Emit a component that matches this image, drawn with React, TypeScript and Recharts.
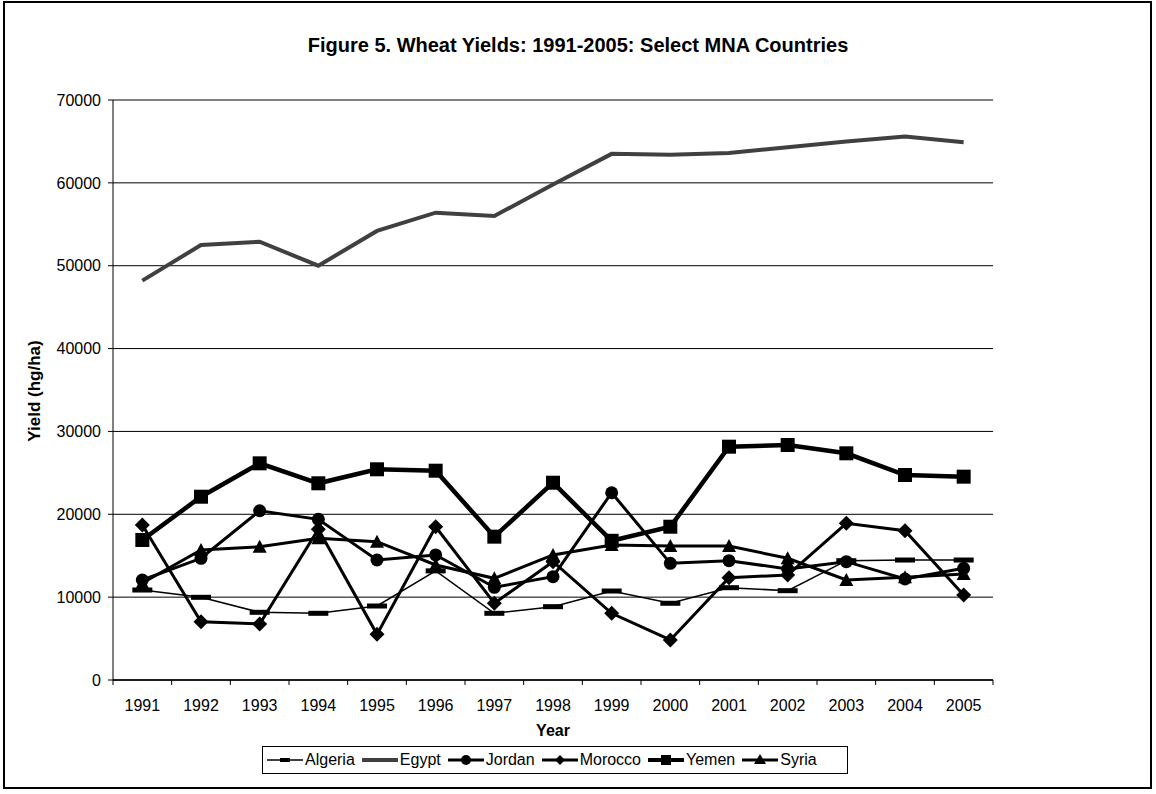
import { LineChart, Line, XAxis, YAxis, CartesianGrid, ReferenceLine } from "recharts";

const years = ["1991", "1992", "1993", "1994", "1995", "1996", "1997", "1998", "1999", "2000", "2001", "2002", "2003", "2004", "2005"];
const algeria = [10860, 9980, 8170, 8050, 8930, 13170, 8050, 8850, 10740, 9260, 11140, 10780, 14400, 14480, 14480];
const egypt = [48200, 52500, 52900, 50000, 54200, 56400, 56000, 59800, 63500, 63400, 63600, 64300, 65000, 65600, 64900];
const jordan = [12070, 14690, 20430, 19390, 14480, 15090, 11190, 12470, 22600, 14080, 14400, 13400, 14280, 12190, 13480];
const morocco = [18710, 7040, 6760, 18190, 5510, 18500, 9260, 14280, 8050, 4830, 12350, 12670, 18910, 18020, 10260];
const yemen = [16900, 22120, 26150, 23740, 25430, 25260, 17300, 23810, 16800, 18500, 28160, 28360, 27360, 24740, 24540];
const syria = [11700, 15690, 16090, 17100, 16690, 13880, 12270, 15090, 16290, 16170, 16170, 14690, 12070, 12390, 12790];
const yTicks = [0, 10000, 20000, 30000, 40000, 50000, 60000, 70000];
const seriesNames = ["Algeria", "Egypt", "Jordan", "Morocco", "Yemen", "Syria"];

const data = years.map((year, i) => ({
  year,
  Algeria: algeria[i],
  Egypt: egypt[i],
  Jordan: jordan[i],
  Morocco: morocco[i],
  Yemen: yemen[i],
  Syria: syria[i],
}));

const FONT = "'Liberation Sans', Arial, sans-serif";
const PLOT_LEFT = 113;
const PLOT_RIGHT = 993;
const PLOT_TOP = 100;
const PLOT_BOTTOM = 680;
const BAND = (PLOT_RIGHT - PLOT_LEFT) / years.length;

function BarDot(props: any) {
  const { cx, cy } = props;
  if (cx == null || cy == null) return null;
  return <rect x={cx - 10} y={cy - 2.5} width={20} height={5} fill="#000" />;
}
function CircleDot(props: any) {
  const { cx, cy } = props;
  if (cx == null || cy == null) return null;
  return <circle cx={cx} cy={cy} r={6.5} fill="#000" />;
}
function DiamondDot(props: any) {
  const { cx, cy } = props;
  if (cx == null || cy == null) return null;
  const r = 7.5;
  return <polygon points={`${cx},${cy - r} ${cx + r},${cy} ${cx},${cy + r} ${cx - r},${cy}`} fill="#000" />;
}
function SquareDot(props: any) {
  const { cx, cy } = props;
  if (cx == null || cy == null) return null;
  return <rect x={cx - 7} y={cy - 7} width={14} height={14} fill="#000" />;
}
function TriangleDot(props: any) {
  const { cx, cy } = props;
  if (cx == null || cy == null) return null;
  return <polygon points={`${cx},${cy - 7} ${cx + 7},${cy + 6} ${cx - 7},${cy + 6}`} fill="#000" />;
}

function XTick(props: any) {
  const { x, payload, index } = props;
  const left = x - BAND / 2;
  return (
    <g>
      <line x1={left} y1={PLOT_BOTTOM} x2={left} y2={PLOT_BOTTOM + 5} stroke="#000" />
      {index === years.length - 1 && (
        <line x1={x + BAND / 2} y1={PLOT_BOTTOM} x2={x + BAND / 2} y2={PLOT_BOTTOM + 5} stroke="#000" />
      )}
      <text x={x} y={PLOT_BOTTOM + 31} textAnchor="middle" fontSize={16} fontFamily={FONT} fill="#000">
        {payload.value}
      </text>
    </g>
  );
}

function LegendIcon({ name }: { name: string }) {
  const w = 36;
  const h = 16;
  const c = h / 2;
  const m = w / 2;
  let line = <line x1={0} y1={c} x2={w} y2={c} stroke="#000" strokeWidth={3} />;
  let marker: any = null;
  if (name === "Algeria") {
    line = <line x1={0} y1={c} x2={w} y2={c} stroke="#000" strokeWidth={1.5} />;
    marker = <rect x={m - 5} y={c - 2} width={10} height={4} fill="#000" />;
  } else if (name === "Egypt") {
    line = <line x1={0} y1={c} x2={w} y2={c} stroke="#404040" strokeWidth={4} />;
  } else if (name === "Jordan") {
    marker = <circle cx={m} cy={c} r={5} fill="#000" />;
  } else if (name === "Morocco") {
    marker = <polygon points={`${m},${c - 5} ${m + 5},${c} ${m},${c + 5} ${m - 5},${c}`} fill="#000" />;
  } else if (name === "Yemen") {
    line = <line x1={0} y1={c} x2={w} y2={c} stroke="#000" strokeWidth={4} />;
    marker = <rect x={m - 5} y={c - 5} width={10} height={10} fill="#000" />;
  } else if (name === "Syria") {
    marker = <polygon points={`${m},${c - 6} ${m + 6},${c + 4} ${m - 6},${c + 4}`} fill="#000" />;
  }
  return (
    <svg width={w} height={h} style={{ display: "block" }}>
      {line}
      {marker}
    </svg>
  );
}

export default function App() {
  return (
    <div style={{ position: "absolute", left: 0, top: 0, width: 1156, height: 794, background: "#fff", fontFamily: FONT }}>
      <div
        style={{
          position: "absolute",
          left: 3,
          top: 1,
          width: 1149,
          height: 788,
          border: "2px solid #000",
          boxSizing: "border-box",
        }}
      />
      <div
        style={{
          position: "absolute",
          left: 0,
          width: 1156,
          top: 34,
          textAlign: "center",
          fontWeight: "bold",
          fontSize: 20,
        }}
      >
        Figure 5. Wheat Yields: 1991-2005: Select MNA Countries
      </div>
      <div style={{ position: "absolute", left: 0, top: 0 }}>
        <LineChart
          width={1156}
          height={794}
          data={data}
          margin={{ top: PLOT_TOP, left: 0, right: 1156 - PLOT_RIGHT, bottom: 794 - PLOT_BOTTOM - 40 }}
        >
          <CartesianGrid horizontal vertical={false} stroke="#000" strokeWidth={1} />
          <XAxis
            dataKey="year"
            height={40}
            stroke="#000"
            strokeWidth={1.5}
            tickLine={false}
            tick={<XTick />}
            interval={0}
            padding={{ left: BAND / 2, right: BAND / 2 }}
          />
          <YAxis
            width={PLOT_LEFT}
            domain={[0, 70000]}
            ticks={yTicks}
            stroke="#000"
            tickSize={5}
            tickMargin={7}
            tick={{ fontSize: 16, fontFamily: FONT, fill: "#000" }}
            interval={0}
          />
          <YAxis
            yAxisId="right"
            orientation="right"
            width={0}
            tick={false}
            tickLine={false}
            stroke="#808080"
            strokeWidth={2}
          />
          <ReferenceLine y={70000} stroke="#808080" strokeWidth={2} />
          <Line dataKey="Algeria" stroke="#000" strokeWidth={1.5} dot={<BarDot />} isAnimationActive={false} />
          <Line dataKey="Egypt" stroke="#404040" strokeWidth={4} dot={false} isAnimationActive={false} />
          <Line dataKey="Jordan" stroke="#000" strokeWidth={3} dot={<CircleDot />} isAnimationActive={false} />
          <Line dataKey="Morocco" stroke="#000" strokeWidth={3} dot={<DiamondDot />} isAnimationActive={false} />
          <Line dataKey="Yemen" stroke="#000" strokeWidth={4.5} dot={<SquareDot />} isAnimationActive={false} />
          <Line dataKey="Syria" stroke="#000" strokeWidth={3} dot={<TriangleDot />} isAnimationActive={false} />
        </LineChart>
      </div>
      <div
        style={{
          position: "absolute",
          left: 35,
          top: 391,
          transform: "translate(-50%, -50%) rotate(-90deg)",
          fontWeight: "bold",
          fontSize: 17,
          whiteSpace: "nowrap",
        }}
      >
        Yield (hg/ha)
      </div>
      <div
        style={{
          position: "absolute",
          left: PLOT_LEFT,
          width: PLOT_RIGHT - PLOT_LEFT,
          top: 722,
          textAlign: "center",
          fontWeight: "bold",
          fontSize: 16,
        }}
      >
        Year
      </div>
      <div
        style={{
          position: "absolute",
          left: 262,
          top: 746,
          width: 586,
          height: 28,
          border: "1px solid #000",
          boxSizing: "border-box",
          display: "flex",
          alignItems: "center",
          paddingLeft: 4,
          fontSize: 16,
        }}
      >
        {seriesNames.map((name) => (
          <div key={name} style={{ display: "flex", alignItems: "center", marginRight: 7 }}>
            <LegendIcon name={name} />
            <span style={{ marginLeft: 2 }}>{name}</span>
          </div>
        ))}
      </div>
    </div>
  );
}
